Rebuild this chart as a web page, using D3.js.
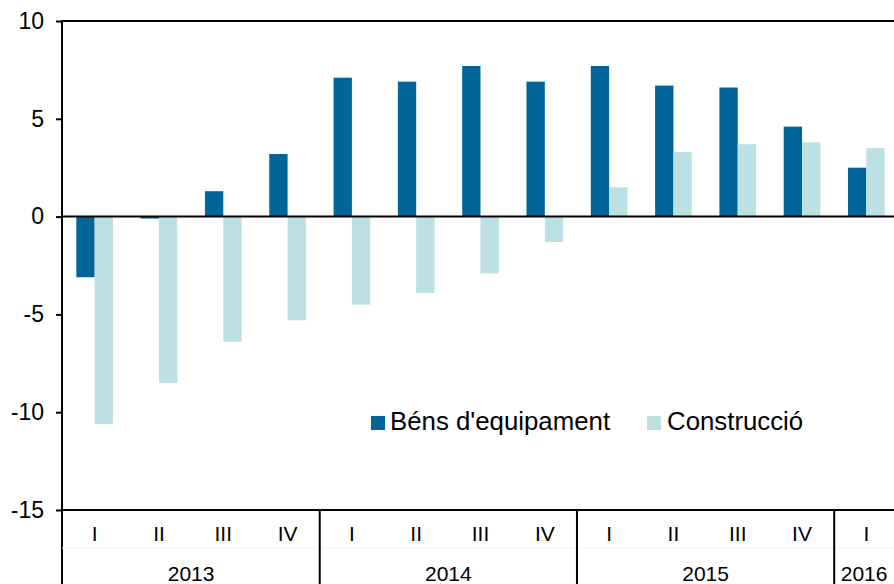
<!DOCTYPE html>
<html>
<head>
<meta charset="utf-8">
<script src="https://cdn.jsdelivr.net/npm/d3@7"></script>
<style>
  html, body { margin: 0; padding: 0; background: #fff; }
  svg { display: block; font-family: "Liberation Sans", Arial, sans-serif; }
</style>
</head>
<body>
<svg id="chart" width="894" height="584"></svg>
<script>
// quarters per year (2016 only has the first quarter)
const years = ["2013", "2014", "2015", "2016"];
const quarterLabels = ["I", "II", "III", "IV", "I", "II", "III", "IV", "I", "II", "III", "IV", "I"];
const quarterYears = ["2013", "2013", "2013", "2013", "2014", "2014", "2014", "2014", "2015", "2015", "2015", "2015", "2016"];
const bens = [-3.1, -0.1, 1.3, 3.2, 7.1, 6.9, 7.7, 6.9, 7.7, 6.7, 6.6, 4.6, 2.5];
const construccio = [-10.6, -8.5, -6.4, -5.3, -4.5, -3.9, -2.9, -1.3, 1.5, 3.3, 3.7, 3.8, 3.5];
const seriesNames = ["Béns d'equipament", "Construcció"];
const yTicks = [10, 5, 0, -5, -10, -15];

const colors = {
    "Béns d'equipament": "#006699",
    "Construcció": "#bce0e3"
}

const svg = d3.select('#chart');
const plotLeft = 62, plotRight = 898, plotTop = 21, plotBottom = 510;

const ids = quarterLabels.map((q, i) => quarterYears[i] + '-' + q);
const data = ids.map((id, i) => ({id: id, q: quarterLabels[i], year: quarterYears[i],
    values: [bens[i], construccio[i]]}));

const x = d3.scaleBand().domain(ids).range([plotLeft + 0.5, plotRight + 0.5])
    .paddingInner(0.43).paddingOuter(0.215);
const x1 = d3.scaleBand().domain([0, 1]).range([0, x.bandwidth()]);
const y = d3.scaleLinear().domain([-15, 10]).range([plotBottom, plotTop]);

// bars
svg.append('g')
    .selectAll('g')
    .data(data)
    .enter()
    .append('g')
    .attr('transform', d => `translate(${x(d.id)},0)`)
    .selectAll('rect')
    .data(d => d.values.map((v, i) => ({v: v, i: i})))
    .enter()
    .append('rect')
    .attr('x', d => x1(d.i))
    .attr('width', x1.bandwidth())
    .attr('y', d => y(Math.max(0, d.v)))
    .attr('height', d => Math.abs(y(d.v) - y(0)))
    .attr('fill', d => colors[seriesNames[d.i]]);

// y axis (plain hyphen for negatives, like the original)
const yAxis = d3.axisLeft(y).tickValues(yTicks).tickSize(6).tickPadding(12).tickFormat(d => String(d));
const gy = svg.append('g').attr('transform', `translate(${plotLeft},0)`).call(yAxis);
gy.select('.domain').remove();
gy.selectAll('.tick line').attr('stroke', '#000').attr('stroke-width', 2);
gy.selectAll('.tick text').attr('font-size', 23).attr('fill', '#000')
    .attr('font-family', '"Liberation Sans", Arial, sans-serif');

// frame lines
svg.append('line').attr('x1', plotLeft).attr('x2', 894).attr('y1', y(10)).attr('y2', y(10))
    .attr('stroke', '#000').attr('stroke-width', 2);
svg.append('line').attr('x1', plotLeft).attr('x2', 894).attr('y1', y(-15)).attr('y2', y(-15))
    .attr('stroke', '#000').attr('stroke-width', 2);
svg.append('line').attr('x1', plotLeft).attr('x2', 894).attr('y1', y(0)).attr('y2', y(0))
    .attr('stroke', '#000').attr('stroke-width', 2);
svg.append('line').attr('x1', plotLeft).attr('x2', plotLeft).attr('y1', y(10) - 1).attr('y2', 584)
    .attr('stroke', '#000').attr('stroke-width', 2);

// faint line between quarter row and year row
svg.append('line').attr('x1', plotLeft).attr('x2', 894).attr('y1', 548).attr('y2', 548)
    .attr('stroke', '#f4f4f4').attr('stroke-width', 1);

// quarter labels
const step = x.step();
svg.append('g')
    .selectAll('text')
    .data(data)
    .enter()
    .append('text')
    .attr('x', d => x(d.id) + x.bandwidth() / 2)
    .attr('y', 541)
    .attr('text-anchor', 'middle')
    .attr('font-size', 21)
    .text(d => d.q);

// year groups
const yearGroups = years.map(yr => {
    const ds = data.filter(d => d.year === yr);
    return {year: yr, x0: x(ds[0].id) - x.paddingOuter() * step, x1: x(ds[ds.length - 1].id) + x.bandwidth() + x.paddingOuter() * step};
});
svg.append('g')
    .selectAll('text')
    .data(yearGroups)
    .enter()
    .append('text')
    .attr('x', d => (d.x0 + Math.min(d.x1, 894)) / 2)
    .attr('y', 581)
    .attr('text-anchor', 'middle')
    .attr('font-size', 21)
    .text(d => d.year);
svg.append('g')
    .selectAll('line')
    .data(yearGroups.slice(1))
    .enter()
    .append('line')
    .attr('x1', d => d.x0).attr('x2', d => d.x0)
    .attr('y1', plotBottom).attr('y2', 584)
    .attr('stroke', '#000').attr('stroke-width', 2);

// legend
const legend = svg.append('g');
legend.append('rect').attr('x', 371).attr('y', 416).attr('width', 14).attr('height', 14).attr('fill', colors[seriesNames[0]]);
legend.append('text').attr('x', 390).attr('y', 430).attr('font-size', 25.8).text(seriesNames[0]);
legend.append('rect').attr('x', 647).attr('y', 416).attr('width', 14).attr('height', 14).attr('fill', colors[seriesNames[1]]);
legend.append('text').attr('x', 667).attr('y', 430).attr('font-size', 25.8).text(seriesNames[1]);
</script>
</body>
</html>
